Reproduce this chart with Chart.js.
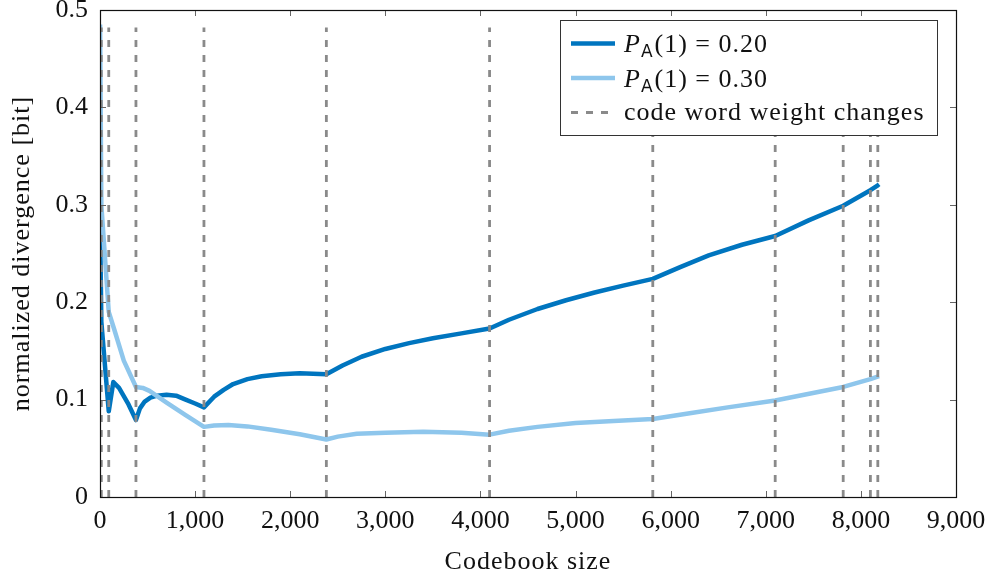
<!DOCTYPE html>
<html>
<head>
<meta charset="utf-8">
<title>Normalized divergence vs. codebook size</title>
<script src="https://cdn.jsdelivr.net/npm/chart.js@4.4.0/dist/chart.umd.min.js"></script>
<style>
  html, body { margin: 0; padding: 0; background: #fff; }
  #wrap { width: 988px; height: 583px; }
</style>
</head>
<body>
<div id="wrap"><canvas id="divergence-chart" width="988" height="583"></canvas></div>
<script>
// P_A(1) = 0.20
const sizes20 = [1, 14, 92, 140, 200, 300, 378, 420, 470, 530, 600, 700, 800, 900, 1000, 1093,
    1200, 1300, 1400, 1550, 1700, 1900, 2100, 2380,
    2550, 2750, 3000, 3250, 3500, 3800, 4096,
    4300, 4600, 4900, 5200, 5500, 5812,
    6100, 6400, 6750, 7099, 7450, 7814, 8100, 8178, 8191];
const divergence20 = [0.28, 0.18, 0.088, 0.118, 0.112, 0.095, 0.079, 0.091, 0.098, 0.102, 0.104, 0.105, 0.104, 0.100, 0.096, 0.092,
    0.103, 0.110, 0.116, 0.121, 0.124, 0.126, 0.127, 0.126,
    0.135, 0.144, 0.152, 0.158, 0.163, 0.168, 0.173,
    0.182, 0.193, 0.202, 0.210, 0.217, 0.224,
    0.236, 0.248, 0.259, 0.268, 0.284, 0.299, 0.315, 0.320, 0.321];

// P_A(1) = 0.30
const sizes30 = [1, 14, 92, 150, 250, 378, 450, 520, 700, 900, 1093,
    1200, 1350, 1550, 1800, 2100, 2380,
    2500, 2700, 3000, 3400, 3800, 4096,
    4300, 4600, 5000, 5400, 5812,
    6200, 6600, 7099, 7814, 8100, 8191];
const divergence30 = [0.485, 0.30, 0.19, 0.172, 0.14, 0.113, 0.112, 0.109, 0.097, 0.084, 0.072,
    0.0735, 0.074, 0.0725, 0.069, 0.0645, 0.059,
    0.062, 0.065, 0.066, 0.067, 0.066, 0.064,
    0.068, 0.072, 0.076, 0.078, 0.080,
    0.086, 0.092, 0.099, 0.113, 0.121, 0.124];

// codebook sizes where the code word weight changes
const weightChanges = [14, 92, 378, 1093, 2380, 4096, 5812, 7099, 7814, 8100, 8178];
const changeTop = 0.482;

const xTicks = [0, 1000, 2000, 3000, 4000, 5000, 6000, 7000, 8000, 9000];
const yTicks = [0, 0.1, 0.2, 0.3, 0.4, 0.5];

const xTitle = 'Codebook size';
const yTitle = 'normalized divergence [bit]';
const legendLabels = ['0.20', '0.30'];
const legendChanges = 'code word weight changes';

const darkBlue = '#0075bf';
const lightBlue = '#8ec6ec';
const dashGray = '#8a8a8a';
const textColor = '#111';
const serif = "'Liberation Serif', 'DejaVu Serif', serif";

function toPoints(xs, ys) {
    return xs.map((x, i) => ({ x: x, y: ys[i] }));
}

const datasets = [
    {
        data: toPoints(sizes20, divergence20),
        borderColor: darkBlue,
        borderWidth: 4.5,
        order: 3
    },
    {
        data: toPoints(sizes30, divergence30),
        borderColor: lightBlue,
        borderWidth: 4.5,
        order: 2
    }
];
weightChanges.forEach(x => {
    datasets.push({
        data: [{ x: x, y: 0 }, { x: x, y: changeTop }],
        borderColor: dashGray,
        borderWidth: 2.8,
        borderDash: [7, 8],
        order: 1
    });
});
datasets.forEach(ds => {
    ds.pointRadius = 0;
    ds.fill = false;
    ds.tension = 0;
    ds.borderCapStyle = 'butt';
    ds.borderJoinStyle = 'round';
});

// frame, inner tick marks, axis titles and the legend box
const framePlugin = {
    id: 'frame',
    afterDraw(chart) {
        const ctx = chart.ctx;
        const area = chart.chartArea;
        const xs = chart.scales.x;
        const ys = chart.scales.y;
        ctx.save();

        ctx.strokeStyle = '#666';
        ctx.lineWidth = 1;
        ctx.beginPath();
        xTicks.forEach(v => {
            const px = Math.round(xs.getPixelForValue(v)) + 0.5;
            ctx.moveTo(px, area.bottom);
            ctx.lineTo(px, area.bottom - 6);
            ctx.moveTo(px, area.top);
            ctx.lineTo(px, area.top + 6);
        });
        yTicks.forEach(v => {
            const py = Math.round(ys.getPixelForValue(v)) + 0.5;
            ctx.moveTo(area.left, py);
            ctx.lineTo(area.left + 6, py);
            ctx.moveTo(area.right, py);
            ctx.lineTo(area.right - 6, py);
        });
        ctx.stroke();

        ctx.strokeStyle = '#111';
        ctx.lineWidth = 1.2;
        ctx.strokeRect(Math.round(area.left) + 0.5, Math.round(area.top) + 0.5,
            Math.round(area.right - area.left), Math.round(area.bottom - area.top));

        // axis titles
        ctx.fillStyle = textColor;
        ctx.font = '26px ' + serif;
        ctx.letterSpacing = '1px';
        ctx.textAlign = 'center';
        ctx.textBaseline = 'middle';
        ctx.fillText(xTitle, (area.left + area.right) / 2, 562);
        ctx.save();
        ctx.translate(22, (area.top + area.bottom) / 2);
        ctx.rotate(-Math.PI / 2);
        ctx.fillText(yTitle, 0, 0);
        ctx.restore();

        // legend
        const box = { left: 560, top: 20, width: 377, height: 115 };
        ctx.fillStyle = '#fff';
        ctx.fillRect(box.left, box.top, box.width, box.height);
        ctx.strokeStyle = '#333';
        ctx.lineWidth = 1;
        ctx.strokeRect(box.left + 0.5, box.top + 0.5, box.width, box.height);

        const rows = [43.5, 78, 112.5];
        const sampleL = 571, sampleR = 615, textX = 624;
        [darkBlue, lightBlue].forEach((c, i) => {
            ctx.strokeStyle = c;
            ctx.lineWidth = 4.5;
            ctx.beginPath();
            ctx.moveTo(sampleL, rows[i]);
            ctx.lineTo(sampleR, rows[i]);
            ctx.stroke();
        });
        ctx.strokeStyle = dashGray;
        ctx.lineWidth = 2.8;
        ctx.setLineDash([7, 8]);
        ctx.beginPath();
        ctx.moveTo(sampleL, rows[2]);
        ctx.lineTo(sampleR, rows[2]);
        ctx.stroke();
        ctx.setLineDash([]);

        ctx.fillStyle = textColor;
        ctx.textBaseline = 'alphabetic';
        ctx.textAlign = 'left';
        legendLabels.forEach((lbl, i) => {
            const base = rows[i] + 8.5;
            let x = textX;
            ctx.letterSpacing = '0px';
            ctx.font = 'italic 26px ' + serif;
            ctx.fillText('P', x, base);
            x += ctx.measureText('P').width + 1;
            ctx.font = "17px 'DejaVu Sans', sans-serif";
            ctx.fillText('A', x, base + 5);
            x += ctx.measureText('A').width + 2;
            ctx.font = '26px ' + serif;
            ctx.letterSpacing = '1px';
            ctx.fillText('(1) = ' + lbl, x, base);
        });
        ctx.letterSpacing = '1px';
        ctx.font = '26px ' + serif;
        ctx.fillText(legendChanges, textX, rows[2] + 7);

        ctx.restore();
    }
};

function fixX(s) {
    s.height = 86;
    s.paddingLeft = 0;
    s.paddingRight = 0;
}
function fixY(s) {
    s.width = 100;
    s.paddingTop = 0;
    s.paddingBottom = 0;
}

const ctx = document.getElementById('divergence-chart').getContext('2d');
const divergenceChart = new Chart(ctx, {
    type: 'line',
    data: { datasets: datasets },
    options: {
        responsive: false,
        animation: false,
        layout: {
            autoPadding: false,
            padding: { left: 0, right: 32, top: 10, bottom: 0 }
        },
        plugins: {
            legend: { display: false },
            tooltip: { enabled: false }
        },
        scales: {
            x: {
                type: 'linear',
                min: 0,
                max: 9000,
                afterFit: fixX,
                afterBuildTicks: s => { s.ticks = xTicks.map(v => ({ value: v })); },
                grid: { display: false, drawTicks: false },
                border: { display: false },
                ticks: {
                    color: textColor,
                    padding: 9,
                    maxRotation: 0,
                    font: { family: serif, size: 26 },
                    callback: v => v.toLocaleString('en-US')
                }
            },
            y: {
                min: 0,
                max: 0.5,
                afterFit: fixY,
                afterBuildTicks: s => { s.ticks = yTicks.map(v => ({ value: v })); },
                grid: { display: false, drawTicks: false },
                border: { display: false },
                ticks: {
                    color: textColor,
                    padding: 12,
                    font: { family: serif, size: 26 },
                    callback: v => v === 0 ? '0' : v.toFixed(1)
                }
            }
        }
    },
    plugins: [framePlugin]
});
</script>
</body>
</html>
